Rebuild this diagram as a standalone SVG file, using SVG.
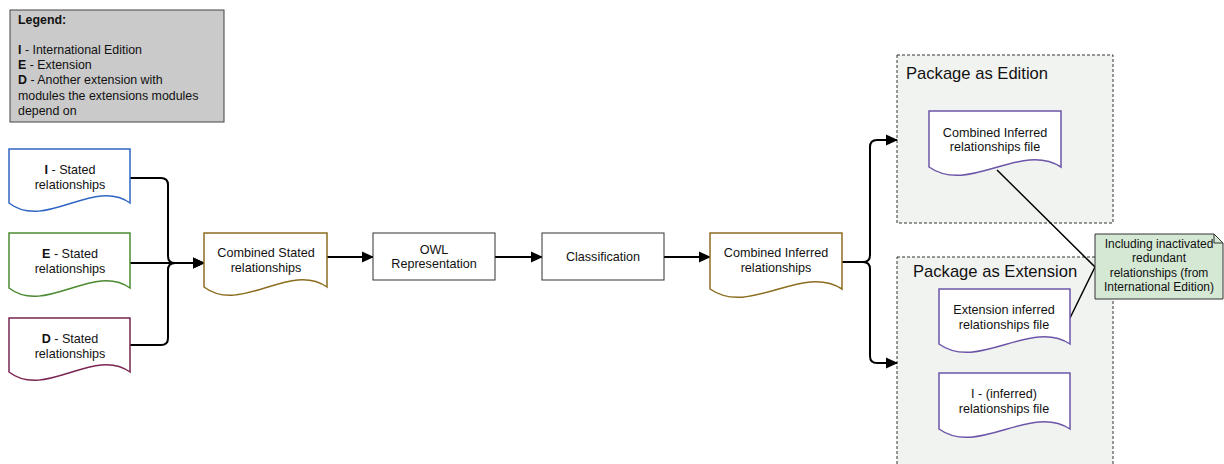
<svg xmlns="http://www.w3.org/2000/svg" width="1224" height="464" viewBox="0 0 1224 464">
<style>
text{font-family:"Liberation Sans",Arial,sans-serif;font-size:12.6px;fill:#111}
.c{text-anchor:middle}
.b{font-weight:bold}
.doc{fill:#fff;stroke-width:1.5}
.box{fill:#fff;stroke:#333;stroke-width:1}
.pkg{fill:#f1f3f1;stroke:#333;stroke-width:1;stroke-dasharray:3 2}
.conn{fill:none;stroke:#000;stroke-width:2}
.thin{fill:none;stroke:#000;stroke-width:1.5}
.big{font-size:16.6px}
.sm{font-size:12px}
.lg{font-size:12.4px}
</style>
<defs>
<marker id="ah" markerWidth="12" markerHeight="12" refX="11" refY="6" orient="auto" markerUnits="userSpaceOnUse">
<path d="M0,0.5 L12,6 L0,11.5 Z" fill="#000"/>
</marker>
</defs>

<g id="legend">
<rect x="10" y="10" width="214" height="112" fill="#cacaca" stroke="#444" stroke-width="1"/>
<text x="18" y="24" class="b lg">Legend:</text>
<text x="18" y="54" class="lg"><tspan class="b">I</tspan> - International Edition</text>
<text x="18" y="69" class="lg"><tspan class="b">E</tspan> - Extension</text>
<text x="18" y="84" class="lg"><tspan class="b">D</tspan> - Another extension with</text>
<text x="18" y="100" class="lg">modules the extensions modules</text>
<text x="18" y="115" class="lg">depend on</text>
</g>

<g id="pkg-edition">
<rect class="pkg" x="897" y="55" width="216" height="168"/>
<text x="906" y="79" class="big">Package as Edition</text>
</g>
<g id="pkg-extension">
<rect class="pkg" x="897" y="257" width="216" height="220"/>
<text x="913" y="277" class="big">Package as Extension</text>
</g>

<g id="connectors">
<path class="conn" d="M130,178 H161 Q168,178 168,185 V256 Q168,263 175,263 H204" marker-end="url(#ah)"/>
<path class="conn" d="M130,263 H204" marker-end="url(#ah)"/>
<path class="conn" d="M130,345 H161 Q168,345 168,338 V270 Q168,263 175,263 H204" marker-end="url(#ah)"/>
<path class="conn" d="M327,257 H373" marker-end="url(#ah)"/>
<path class="conn" d="M495,257 H542" marker-end="url(#ah)"/>
<path class="conn" d="M664,257 H710" marker-end="url(#ah)"/>
<path class="conn" d="M842,262 H863 Q870,262 870,255 V147 Q870,140 877,140 H897" marker-end="url(#ah)"/>
<path class="conn" d="M842,262 H863 Q870,262 870,269 V356 Q870,363 877,363 H897" marker-end="url(#ah)"/>
<path class="thin" d="M997,170 L1095,267 L1070,318"/>
</g>

<g id="i-stated">
<path class="doc" stroke="#2f66c2" d="M9,149 H130 V203 C94,177 45,231 9,203 Z"/>
<text x="70" y="174" class="c"><tspan class="b">I</tspan> - Stated</text>
<text x="70" y="189" class="c">relationships</text>
</g>
<g id="e-stated">
<path class="doc" stroke="#4a8a30" d="M9,233 H130 V288 C94,262 45,316 9,288 Z"/>
<text x="70" y="258" class="c"><tspan class="b">E</tspan> - Stated</text>
<text x="70" y="273" class="c">relationships</text>
</g>
<g id="d-stated">
<path class="doc" stroke="#7a2552" d="M9,318 H130 V372 C94,346 45,400 9,372 Z"/>
<text x="70" y="343" class="c"><tspan class="b">D</tspan> - Stated</text>
<text x="70" y="358" class="c">relationships</text>
</g>
<g id="combined-stated">
<path class="doc" stroke="#8c6d1f" d="M204,233 H327 V287 C290,261 241,315 204,287 Z"/>
<text x="266" y="257" class="c">Combined Stated</text>
<text x="266" y="272" class="c">relationships</text>
</g>
<g id="owl">
<rect class="box" x="373" y="233" width="122" height="47"/>
<text x="434" y="254" class="c">OWL</text>
<text x="434" y="268" class="c">Representation</text>
</g>
<g id="classification">
<rect class="box" x="542" y="233" width="122" height="47"/>
<text x="603" y="261" class="c">Classification</text>
</g>
<g id="combined-inferred">
<path class="doc" stroke="#8c6d1f" d="M710,233 H842 V289 C802,263 750,317 710,289 Z"/>
<text x="776" y="257" class="c">Combined Inferred</text>
<text x="776" y="272" class="c">relationships</text>
</g>
<g id="combined-inferred-file">
<path class="doc" stroke="#6c55a8" d="M929,111 H1061 V167 C1021,141 969,195 929,167 Z"/>
<text x="995" y="137" class="c">Combined Inferred</text>
<text x="995" y="151" class="c">relationships file</text>
</g>
<g id="extension-inferred-file">
<path class="doc" stroke="#6c55a8" d="M939,289 H1070 V344 C1031,318 978,372 939,344 Z"/>
<text x="1004" y="314" class="c">Extension inferred</text>
<text x="1004" y="329" class="c">relationships file</text>
</g>
<g id="i-inferred-file">
<path class="doc" stroke="#6c55a8" d="M939,373 H1070 V429 C1031,403 978,457 939,429 Z"/>
<text x="1004" y="398" class="c">I - (inferred)</text>
<text x="1004" y="413" class="c">relationships file</text>
</g>
<g id="note">
<path d="M1095,234 H1214 L1223,243 V299 H1095 Z" fill="#d5e8d4" stroke="#333" stroke-width="1"/>
<path d="M1214,234 V243 H1223" fill="none" stroke="#333" stroke-width="1"/>
<text x="1159" y="248" class="c sm">Including inactivated</text>
<text x="1159" y="262" class="c sm">redundant</text>
<text x="1159" y="277" class="c sm">relationships (from</text>
<text x="1159" y="291" class="c sm">International Edition)</text>
</g>
</svg>
